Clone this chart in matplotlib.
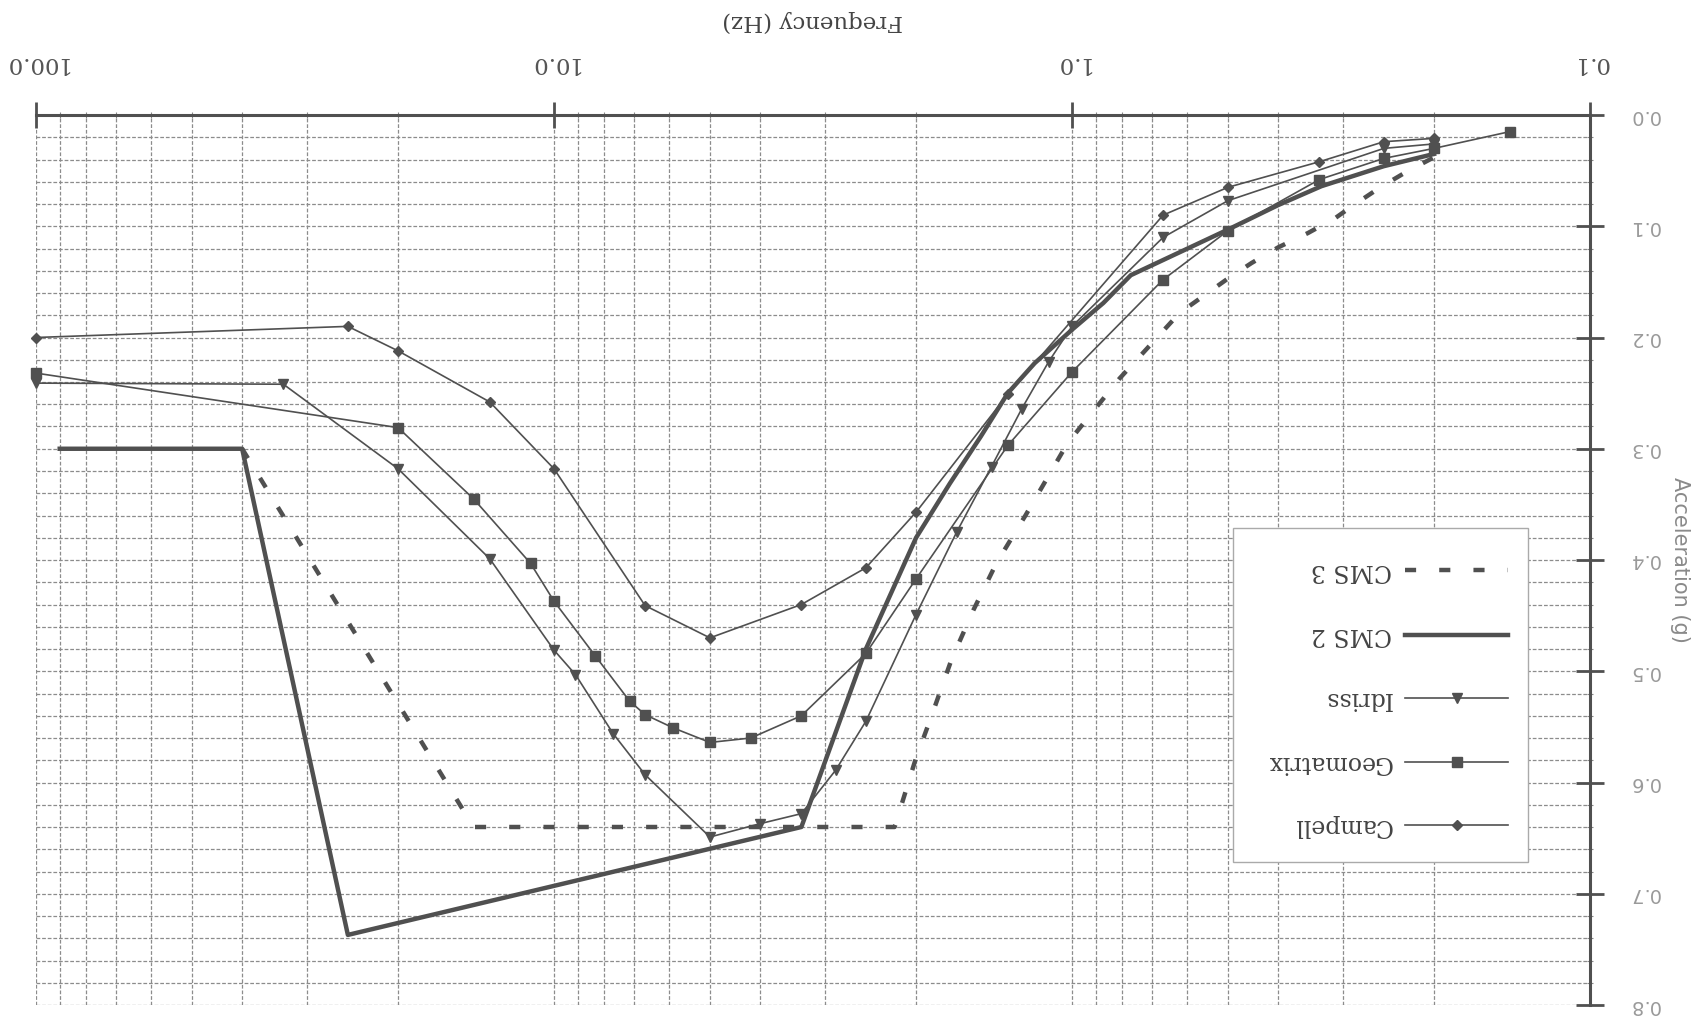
import matplotlib.pyplot as plt
import matplotlib.ticker as mticker
from matplotlib.lines import Line2D
from matplotlib.patches import Rectangle

# values (frequency in Hz, acceleration in g)
# the scan is upside down, so the axes are inverted and every text is turned 180 deg
campell_hz = [100, 25, 20, 13.3, 10, 6.67, 5.0, 3.33, 2.5, 2.0, 1.33, 0.667, 0.5, 0.333, 0.25, 0.2]
campell_g = [0.200, 0.190, 0.212, 0.258, 0.318, 0.441, 0.470, 0.440, 0.407, 0.357, 0.251, 0.090, 0.065,
             0.042, 0.024, 0.021]

geomatrix_hz = [100, 20, 14.3, 11.1, 10, 8.33, 7.14, 6.67, 5.88, 5.0, 4.17, 3.33, 2.5, 2.0, 1.33, 1.0,
                0.667, 0.5, 0.333, 0.25, 0.2, 0.143]
geomatrix_g = [0.232, 0.281, 0.345, 0.403, 0.437, 0.486, 0.527, 0.539, 0.551, 0.564, 0.560, 0.540, 0.484,
               0.417, 0.297, 0.231, 0.148, 0.104, 0.058, 0.039, 0.030, 0.015]

idriss_hz = [100, 33.3, 20, 13.3, 10, 9.09, 7.69, 6.67, 5.0, 4.0, 3.33, 2.86, 2.5, 2.0, 1.67, 1.43, 1.25,
             1.11, 1.0, 0.667, 0.5, 0.25, 0.2]
idriss_g = [0.241, 0.242, 0.318, 0.399, 0.481, 0.503, 0.556, 0.593, 0.649, 0.637, 0.628, 0.589, 0.545,
            0.449, 0.375, 0.316, 0.264, 0.222, 0.190, 0.110, 0.077, 0.030, 0.026]

cms2_hz = [90, 40, 25, 3.33, 2.5, 2.0, 1.72, 1.5, 1.33, 1.18, 1.0, 0.87, 0.77, 0.5, 0.4, 0.33, 0.25, 0.2]
cms2_g = [0.30, 0.30, 0.737, 0.64, 0.48, 0.38, 0.331, 0.289, 0.25, 0.223, 0.193, 0.169, 0.144,
          0.103, 0.081, 0.064, 0.046, 0.035]

cms3_hz = [40, 14.3, 2.2, 2.01, 1.86, 1.71, 1.55, 1.40, 1.23, 1.02, 0.81, 0.62, 0.50, 0.45, 0.40, 0.35,
           0.31, 0.286, 0.254, 0.226, 0.2]
cms3_g = [0.30, 0.64, 0.64, 0.581, 0.538, 0.49, 0.445, 0.403, 0.36, 0.295, 0.237, 0.178, 0.147, 0.133,
          0.119, 0.106, 0.0925, 0.081, 0.065, 0.051, 0.038]

x_ticks = [100, 10, 1, 0.1]
x_labels = ['100.0', '10.0', '1.0', '0.1']
y_ticks = [0.0, 0.1, 0.2, 0.3, 0.4, 0.5, 0.6, 0.7, 0.8]
y_labels = ['0.0', '0.1', '0.2', '0.3', '0.4', '0.5', '0.6', '0.7', '0.8']

W, H = 1707, 1018
ink = '#505050'
serif = 'DejaVu Serif'


def fx(px):
    return px / W


def fy(py):
    return 1 - py / H


fig = plt.figure(figsize=(W / 100, H / 100), dpi=100)
fig.patch.set_facecolor('white')
ax = fig.add_axes([fx(36), fy(1005), fx(1590) - fx(36), fy(115) - fy(1005)])

ax.set_xscale('log')
ax.set_xlim(100, 0.1)
ax.set_ylim(0.8, 0.0)

thin = dict(color=ink, lw=1.2, zorder=4, clip_on=False)
ax.plot(campell_hz, campell_g, marker='D', ms=5, **thin)
ax.plot(geomatrix_hz, geomatrix_g, marker='s', ms=6.5, **thin)
ax.plot(idriss_hz, idriss_g, marker='v', ms=6.5, **thin)
ax.plot(cms2_hz, cms2_g, color=ink, lw=3.2, zorder=3)
ax.plot(cms3_hz, cms3_g, color=ink, lw=3.2, ls=(0, (2.5, 5.2)), zorder=3)

# ticks / grid
ax.xaxis.set_ticks_position('top')
ax.yaxis.set_ticks_position('right')
ax.set_xticks(x_ticks)
ax.set_xticklabels(x_labels, rotation=180, fontfamily=serif, fontsize=16.5, color='#555555')
ax.xaxis.set_minor_locator(mticker.LogLocator(base=10, subs=range(2, 10)))
ax.xaxis.set_minor_formatter(mticker.NullFormatter())
ax.set_yticks(y_ticks)
ax.set_yticklabels(y_labels, rotation=180, va='center', fontfamily='DejaVu Sans', fontsize=14,
                   color='#9a9a9a')
ax.yaxis.set_minor_locator(mticker.MultipleLocator(0.02))

ax.tick_params(axis='x', which='major', direction='inout', length=19, width=2, color=ink, pad=20)
ax.tick_params(axis='y', which='major', direction='inout', length=20, width=2, color=ink, pad=18)
ax.tick_params(which='minor', direction='inout', length=5, width=0.8, color='#888888')

ax.grid(True, which='both', color='#8c8c8c', lw=0.9, ls=(0, (3, 1.5)))
ax.set_axisbelow(True)

for side in ['left', 'bottom']:
    ax.spines[side].set_visible(False)
for side in ['top', 'right']:
    ax.spines[side].set_linewidth(2.2)
    ax.spines[side].set_color(ink)

fig.text(fx(813), fy(21), 'Frequency (Hz)', rotation=180, ha='center', va='center',
         fontfamily=serif, fontsize=16.5, color='#444444')
fig.text(fx(1680), fy(560), 'Acceleration (g)', rotation=270, ha='center', va='center',
         fontfamily='DejaVu Sans', fontsize=15, color='#8a8a8a')

# legend, drawn by hand because it is upside down as well
fig.add_artist(Rectangle((fx(1233), fy(862)), fx(1528) - fx(1233), fy(528) - fy(862),
                         transform=fig.transFigure, facecolor='white', edgecolor='#aaaaaa', lw=1,
                         zorder=5))
entries = [
    ('CMS 3', dict(lw=3.2, ls=(0, (2.5, 5.2))), None, 570),
    ('CMS 2', dict(lw=3.2), None, 635),
    ('Idriss', dict(lw=1.2), 'v', 698),
    ('Geomatrix', dict(lw=1.2), 's', 762),
    ('Campell', dict(lw=1.2), 'D', 825),
]
for name, style, mk, py in entries:
    fig.add_artist(Line2D([fx(1405), fx(1508)], [fy(py), fy(py)], transform=fig.transFigure,
                          color=ink, zorder=6, **style))
    if mk:
        fig.add_artist(Line2D([fx(1457)], [fy(py)], transform=fig.transFigure, color=ink,
                              marker=mk, ms=6.5 if mk != 'D' else 5, zorder=7))
    fig.text(fx(1392), fy(py), name, rotation=180, ha='right', va='center', fontfamily=serif,
             fontsize=17, color='#444444', zorder=7)

fig.savefig('out.png', dpi=100)
